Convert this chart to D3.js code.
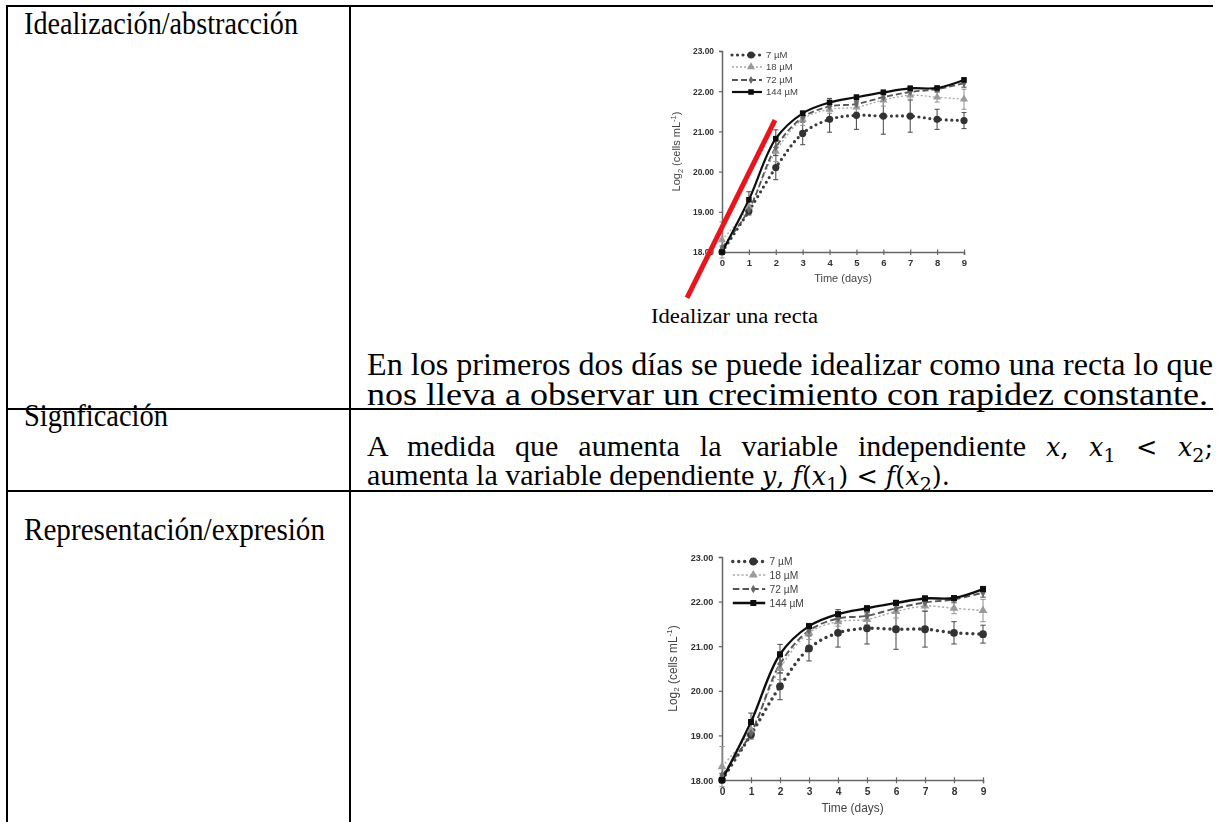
<!DOCTYPE html>
<html>
<head>
<meta charset="utf-8">
<script src="https://cdn.jsdelivr.net/npm/d3@7"></script>
<style>
  html, body { margin: 0; padding: 0; background: #fff; }
  svg { display: block; }
</style>
</head>
<body>
<svg id="page" width="1221" height="822"></svg>
<script>
// Growth curves: log2 cell density over nine days for four nutrient levels
const days = [0, 1, 2, 3, 4, 5, 6, 7, 8, 9];
const seriesNames = ["7 µM", "18 µM", "72 µM", "144 µM"];
const values7 = [18.0, 19.02, 20.1, 20.95, 21.3, 21.4, 21.38, 21.38, 21.3, 21.27];
const values18 = [18.3, 19.12, 20.5, 21.3, 21.55, 21.6, 21.78, 21.9, 21.85, 21.8];
const values72 = [18.1, 19.05, 20.6, 21.35, 21.62, 21.68, 21.85, 21.98, 22.05, 22.2];
const values144 = [18.0, 19.3, 20.82, 21.45, 21.72, 21.85, 21.97, 22.07, 22.08, 22.28];
const err7 = [0.05, 0.1, 0.3, 0.28, 0.32, 0.35, 0.45, 0.4, 0.25, 0.2];
const err18 = [0.45, 0.15, 0.25, 0.15, 0.1, 0.12, 0.15, 0.1, 0.12, 0.25];
const err72 = [0.05, 0.1, 0.2, 0.1, 0.1, 0.1, 0.1, 0.1, 0.06, 0.1];
const err144 = [0.05, 0.2, 0.22, 0.06, 0.1, 0.06, 0.06, 0.06, 0.05, 0.06];
const yTicks = [18, 19, 20, 21, 22, 23];
// Straight line idealising the first two days of growth (day, log2 value)
const idealDays = [-1.3, 1.97];
const idealValues = [16.86, 21.28];

const series = [
  { name: seriesNames[0], values: values7, err: err7, color: "#3a3a3a", width: 3.2, dash: "0 5.5", cap: "round", marker: "circle", msize: 3.6, mcolor: "#333" },
  { name: seriesNames[1], values: values18, err: err18, color: "#a8a8a8", width: 1.3, dash: "2 2", cap: "butt", marker: "triangle", msize: 3.6, mcolor: "#9a9a9a" },
  { name: seriesNames[2], values: values72, err: err72, color: "#555", width: 1.8, dash: "6 3", cap: "butt", marker: "diamond", msize: 2.8, mcolor: "#666" },
  { name: seriesNames[3], values: values144, err: err144, color: "#111", width: 2.2, dash: null, cap: "butt", marker: "square", msize: 3.2, mcolor: "#111" }
];

const svg = d3.select("#page");
svg.append("rect").attr("width", 1221).attr("height", 822).attr("fill", "#fff");

const defs = svg.append("defs");
defs.append("filter").attr("id", "soft").attr("x", "-5%").attr("y", "-5%").attr("width", "110%").attr("height", "110%")
  .append("feGaussianBlur").attr("stdDeviation", 0.45);

const serif = "'Liberation Serif', 'Times New Roman', serif";
const mathFont = "'DejaVu Serif', serif";
const sans = "'Liberation Sans', Arial, sans-serif";

// ---------- table frame ----------
const frame = svg.append("g").attr("stroke", "#000").attr("stroke-width", 2).attr("fill", "none");
frame.append("line").attr("x1", 6).attr("x2", 1213).attr("y1", 6).attr("y2", 6);
frame.append("line").attr("x1", 7).attr("x2", 7).attr("y1", 5).attr("y2", 822);
frame.append("line").attr("x1", 350).attr("x2", 350).attr("y1", 5).attr("y2", 822);
frame.append("line").attr("x1", 6).attr("x2", 1213).attr("y1", 409).attr("y2", 409);
frame.append("line").attr("x1", 6).attr("x2", 1213).attr("y1", 491).attr("y2", 491);

// ---------- row labels ----------
function label(text, x, y, size, width) {
  const t = svg.append("text").attr("x", x).attr("y", y)
    .attr("font-family", serif).attr("font-size", size).attr("fill", "#000").text(text);
  if (width) t.attr("textLength", width).attr("lengthAdjust", "spacingAndGlyphs");
  return t;
}
label("Idealización/abstracción", 24, 34, 31, 274);
label("Signficación", 24, 426, 31, 144);
label("Representación/expresión", 24, 540, 31, 301);

// ---------- paragraph lines ----------
label("En los primeros dos días se puede idealizar como una recta lo que", 367, 375, 32, 846);
label("nos lleva a observar un crecimiento con rapidez constante.", 367, 405, 32, 841);

// Row 2 lines mix plain words with italic math
function mathLine(x, y, parts) {
  const t = svg.append("text").attr("x", x).attr("y", y)
    .attr("font-family", serif).attr("font-size", 30).attr("fill", "#000");
  parts.forEach(p => {
    const s = t.append("tspan").text(p.t);
    if (p.m) s.attr("font-family", mathFont).attr("font-size", 25.5);
    if (p.i) s.attr("font-style", "italic");
    if (p.sub) s.attr("font-family", mathFont).attr("font-size", 19).attr("dy", 6);
    if (p.up) s.attr("dy", -6);
  });
  return t;
}
const m1 = mathLine(367, 456, [
  { t: "A medida que aumenta la variable independiente " },
  { t: "x", m: true, i: true }, { t: ", ", m: true }, { t: "x", m: true, i: true }, { t: "1", sub: true },
  { t: " < ", m: true, up: true }, { t: "x", m: true, i: true }, { t: "2", sub: true }, { t: ";", m: true, up: true }
]);
mathLine(367, 485, [
  { t: "aumenta la variable dependiente " },
  { t: "y", m: true, i: true }, { t: ", ", m: true }, { t: "f", m: true, i: true }, { t: "(", m: true },
  { t: "x", m: true, i: true }, { t: "1", sub: true }, { t: ") < ", m: true, up: true },
  { t: "f", m: true, i: true }, { t: "(", m: true }, { t: "x", m: true, i: true },
  { t: "2", sub: true }, { t: ").", m: true, up: true }
]);
// spread the first line to the full cell width
(function () {
  const natural = m1.node().getComputedTextLength();
  const spaces = (m1.text().match(/ /g) || []).length;
  m1.attr("word-spacing", Math.max(0, (846 - natural) / spaces));
})();

// ---------- growth chart ----------
function symbolFor(kind, size) {
  const s = size;
  if (kind === "circle") return d3.symbol().type(d3.symbolCircle).size(Math.PI * s * s)();
  if (kind === "triangle") return d3.symbol().type(d3.symbolTriangle).size(s * s * 2.2)();
  if (kind === "diamond") return d3.symbol().type(d3.symbolDiamond).size(s * s * 2.4)();
  return d3.symbol().type(d3.symbolSquare).size(s * s * 3)();
}

function drawChart(cfg) {
  const g = svg.append("g").attr("filter", "url(#soft)");
  const x = d3.scaleLinear().domain([0, 9]).range([cfg.left, cfg.right]);
  const y = d3.scaleLinear().domain([18, 23]).range([cfg.bottom, cfg.top]);
  const k = cfg.scale;

  // axes
  const ya = g.append("g").attr("transform", `translate(${cfg.left},0)`)
    .call(d3.axisLeft(y).tickValues(yTicks).tickFormat(d3.format(".2f")).tickSize(3 * k).tickPadding(5 * k));
  ya.select(".domain").attr("stroke", "#666").attr("stroke-width", 1.5);
  ya.selectAll(".tick line").attr("stroke", "#666").attr("stroke-width", 1.2);
  ya.selectAll(".tick text").attr("font-family", sans).attr("font-size", 9 * k)
    .attr("font-weight", "bold").attr("fill", "#333").attr("textLength", 21 * k).attr("lengthAdjust", "spacingAndGlyphs");

  const xa = g.append("g").attr("transform", `translate(0,${cfg.bottom})`)
    .call(d3.axisBottom(x).tickValues(days).tickFormat(d3.format("d")).tickSize(3 * k).tickPadding(4 * k));
  xa.select(".domain").attr("stroke", "#666").attr("stroke-width", 1.5);
  xa.selectAll(".tick line").attr("stroke", "#666").attr("stroke-width", 1.2).attr("y1", -2.5 * k);
  xa.selectAll(".tick text").attr("font-family", sans).attr("font-size", 9.5 * k)
    .attr("font-weight", "bold").attr("fill", "#333");

  g.append("text").attr("x", (cfg.left + cfg.right) / 2).attr("y", cfg.bottom + 30 * k)
    .attr("text-anchor", "middle").attr("font-family", sans).attr("font-size", 11 * k)
    .attr("fill", "#444").text("Time (days)");

  const yl = g.append("text")
    .attr("transform", `translate(${cfg.left - 42 * k},${(cfg.top + cfg.bottom) / 2}) rotate(-90)`)
    .attr("text-anchor", "middle").attr("font-family", sans).attr("font-size", 11 * k).attr("fill", "#444");
  yl.append("tspan").text("Log");
  yl.append("tspan").text("2").attr("font-size", 7.5 * k).attr("dy", 2.5 * k);
  yl.append("tspan").text(" (cells mL").attr("dy", -2.5 * k);
  yl.append("tspan").text("-1").attr("font-size", 7.5 * k).attr("dy", -4 * k);
  yl.append("tspan").text(")").attr("dy", 4 * k);

  // error bars
  series.forEach(s => {
    const eb = g.append("g").attr("stroke", s === series[1] ? "#999" : "#555").attr("stroke-width", 1.1);
    days.forEach((d, i) => {
      const cx = x(d), lo = y(s.values[i] - s.err[i]), hi = y(s.values[i] + s.err[i]);
      eb.append("line").attr("x1", cx).attr("x2", cx).attr("y1", lo).attr("y2", hi);
      eb.append("line").attr("x1", cx - 2.5 * k).attr("x2", cx + 2.5 * k).attr("y1", lo).attr("y2", lo);
      eb.append("line").attr("x1", cx - 2.5 * k).attr("x2", cx + 2.5 * k).attr("y1", hi).attr("y2", hi);
    });
  });

  // smoothed series lines
  const line = d3.line().x((d, i) => x(days[i])).y(d => y(d)).curve(d3.curveCatmullRom.alpha(0.5));
  series.forEach(s => {
    g.append("path").attr("d", line(s.values)).attr("fill", "none")
      .attr("stroke", s.color).attr("stroke-width", s.width * k)
      .attr("stroke-dasharray", s.dash ? s.dash.split(" ").map(v => +v * k).join(" ") : null)
      .attr("stroke-linecap", s.cap);
  });

  // markers
  series.forEach(s => {
    const path = symbolFor(s.marker, s.msize * k);
    g.append("g").selectAll("path").data(s.values).join("path")
      .attr("transform", (d, i) => `translate(${x(days[i])},${y(d)})`)
      .attr("d", path).attr("fill", s.mcolor);
  });

  // legend
  const lg = g.append("g");
  series.forEach((s, i) => {
    const ly = cfg.top + cfg.legendRows[i];
    const x1 = cfg.left + 10 * k, x2 = cfg.left + 40 * k;
    lg.append("line").attr("x1", x1).attr("x2", x2).attr("y1", ly).attr("y2", ly)
      .attr("stroke", s.color).attr("stroke-width", s.width * k)
      .attr("stroke-dasharray", s.dash ? s.dash.split(" ").map(v => +v * k).join(" ") : null)
      .attr("stroke-linecap", s.cap);
    lg.append("path").attr("transform", `translate(${(x1 + x2) / 2 + 4 * k},${ly})`)
      .attr("d", symbolFor(s.marker, s.msize * k)).attr("fill", s.mcolor);
    lg.append("text").attr("x", x2 + 4 * k).attr("y", ly + 3.4 * k)
      .attr("font-family", sans).attr("font-size", 9.5 * k).attr("fill", "#444").text(s.name);
  });

  return { g, x, y };
}

// Chart with the idealised straight line
const c1 = drawChart({ left: 722, right: 964, top: 51, bottom: 252, scale: 1, legendRows: [4, 16, 29, 41] });
const ideal = d3.line().x((d, i) => c1.x(idealDays[i])).y(d => c1.y(d));
svg.append("path").attr("d", ideal(idealValues)).attr("fill", "none")
  .attr("stroke", "#e8141c").attr("stroke-width", 5).attr("stroke-linecap", "butt").attr("filter", "url(#soft)");
label("Idealizar una recta", 651, 323, 20.5, 167);

// Plain representation of the same curves
drawChart({ left: 722, right: 983, top: 557, bottom: 780, scale: 1.08, legendRows: [4.5, 18, 32, 46] });
</script>
</body>
</html>
